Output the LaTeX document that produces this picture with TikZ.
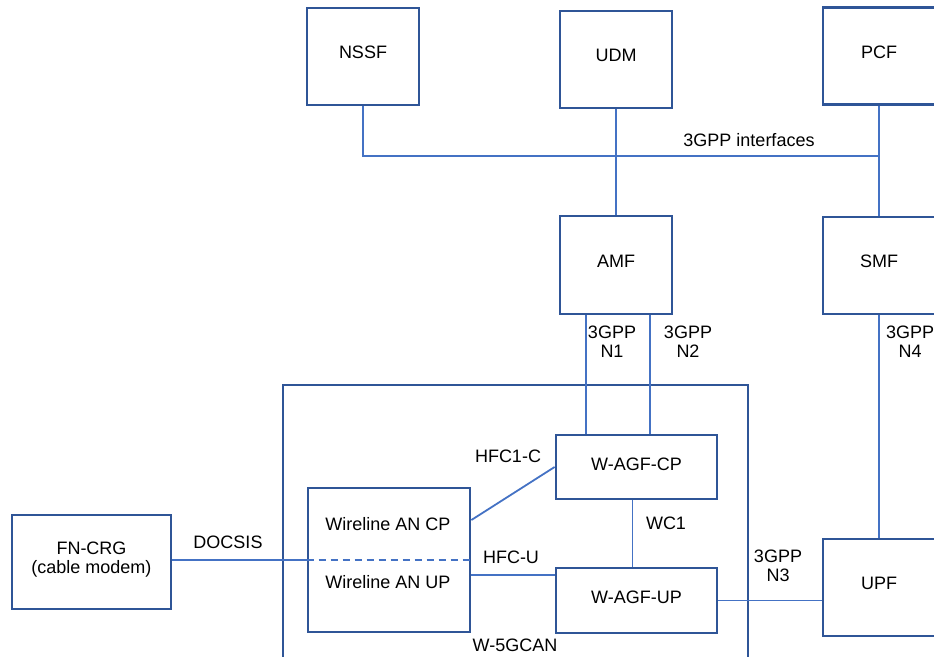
\documentclass[tikz,border=0pt]{standalone}
\usepackage{fontspec}
\setmainfont{Liberation Sans}
\usepackage{tikz}
\definecolor{boxblue}{RGB}{47,85,151}
\definecolor{lineblue}{RGB}{68,114,196}

\begin{document}
\begin{tikzpicture}[x=1pt,y=-1pt,
    nf/.style={draw=boxblue, line width=2.8pt, minimum width=112pt, minimum height=97pt, inner sep=0pt, text depth=8pt},
    agf/.style={nf, minimum width=161pt, minimum height=64pt},
    link/.style={draw=lineblue, line width=1.8pt},
    lbl/.style={inner sep=0pt, align=center},
    font=\fontsize{18}{19}\selectfont]
\useasboundingbox (0,0) rectangle (934,656);
    \node [nf] (nssf) at (363,56.5) {NSSF};
    \node [nf] (udm) at (616,59.5) {UDM};
    \node [nf] (pcf) at (879,56) {PCF};
    \node [nf, minimum height=98pt] (amf) at (616,265) {AMF};
    \node [nf] (smf) at (879,265.5) {SMF};
    \node [nf] (upf) at (879,587.5) {UPF};
    \node [nf, minimum width=465pt, minimum height=300pt] (wcan) at (515.5,535) {};
    \node [agf, text depth=6pt] (agfcp) at (636.5,467) {W-AGF-CP};
    \node [agf, text depth=6pt, minimum height=65pt] (agfup) at (636.5,600.5) {W-AGF-UP};
    \node [nf, minimum width=162pt, minimum height=144pt] (an) at (389,560) {};
    \node [lbl] (ancp) at (388,524) {Wireline AN CP};
    \node [lbl] (anup) at (388,582) {Wireline AN UP};
    \node [nf, minimum width=159pt, minimum height=94pt, align=center] (crg) at (91.5,562) {FN-CRG\\(cable modem)};
\coordinate (bus) at (879,156);
\draw [link] (nssf.south) |- (bus);
\draw [link] (pcf.south) -- (smf.north);
\draw [link] (udm.south) -- (amf.north);
\draw [link] ([xshift=-30pt]amf.south) -- ([xshift=-30pt]amf.south |- agfcp.north);
\draw [link] ([xshift=34pt]amf.south) -- ([xshift=34pt]amf.south |- agfcp.north);
\draw [link] (smf.south) -- (upf.north);
\draw [link] ([yshift=40pt]an.east) -- (agfcp.west);
\draw [link] ([yshift=-15pt]an.east) -- ([yshift=-15pt]an.east -| agfup.west);
\draw [link] ([xshift=-4pt]agfcp.south) -- ([xshift=-4pt]agfup.north);
\draw [link] (agfup.east) -- (agfup.east -| upf.west);
\draw [link] (crg.east |- an.west) -- (an.west);
\draw [link, dashed, dash pattern=on 7pt off 5pt] (an.west) -- (an.east);
    \node [lbl] (ifc) at (749,140) {3GPP interfaces};
    \node [lbl] (n1) at (612,342) {3GPP\\N1};
    \node [lbl] (n2) at (688,342) {3GPP\\N2};
    \node [lbl] (n4) at (910,342) {3GPP\\N4};
    \node [lbl] (n3) at (778,566) {3GPP\\N3};
    \node [lbl] (hfcc) at (508,456) {HFC1-C};
    \node [lbl] (hfcu) at (511,557) {HFC-U};
    \node [lbl] (wc1) at (666,523) {WC1};
    \node [lbl] (docsis) at (228,542) {DOCSIS};
    \node [lbl] (wname) at (515,645) {W-5GCAN};
\end{tikzpicture}
\end{document}
